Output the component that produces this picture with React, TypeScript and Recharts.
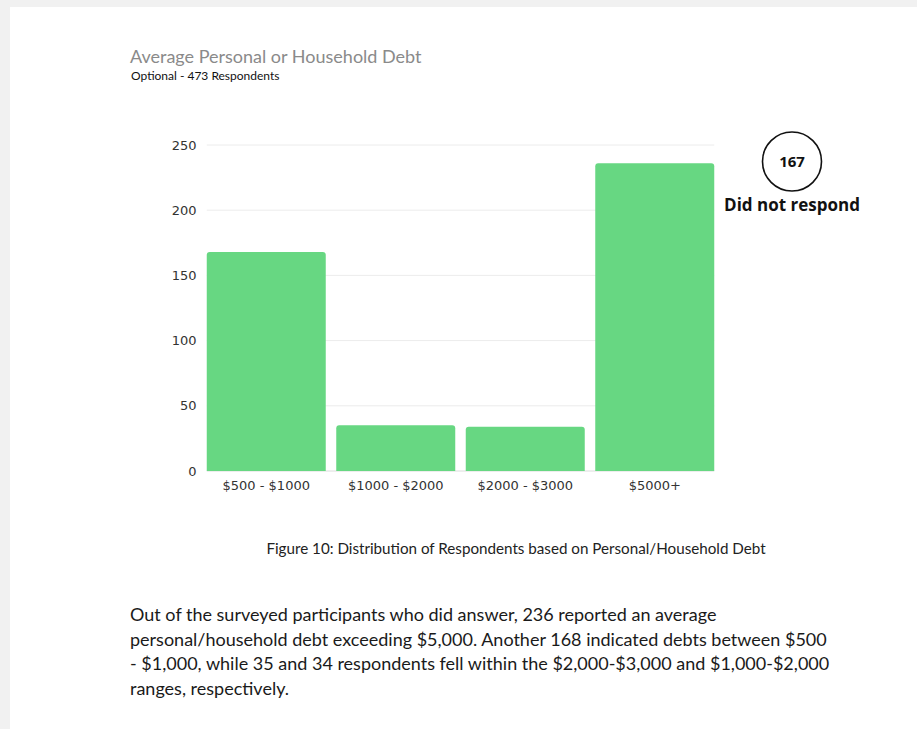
import { BarChart, Bar, XAxis, YAxis, CartesianGrid } from 'recharts';

const categories = ['$500 - $1000', '$1000 - $2000', '$2000 - $3000', '$5000+'];
const respondents = [168, 35, 34, 236];
const yTicks = [0, 50, 100, 150, 200, 250];
const noResponse = 167;

const data = categories.map((name, i) => ({ name, value: respondents[i] }));

const GAP = 5.25;
const textFont = 'Lato, "Open Sans", sans-serif';
const tickFont = '"DejaVu Sans", sans-serif';
const noteFont = '"Open Sans", sans-serif';

// shorten grid lines so they stop at the outer bar edges, like the original
const GridLine = (props: any) => {
  const isBase = Math.abs(props.y1 - props.offset?.top - props.offset?.height) < 1;
  return (
    <line
      x1={props.x1 + GAP}
      x2={props.x2 - GAP}
      y1={props.y1}
      y2={props.y2}
      stroke={isBase ? '#dcdcdc' : '#ececec'}
      strokeWidth={1}
    />
  );
};

export default function App() {
  return (
    <div
      style={{
        position: 'absolute',
        left: 0,
        top: 0,
        width: 917,
        height: 729,
        background: '#f1f1f1',
        overflow: 'hidden',
      }}
    >
      <div
        style={{
          position: 'absolute',
          left: 10,
          top: 7,
          right: 0,
          bottom: 0,
          background: '#fff',
        }}
      />
      <div
        style={{
          position: 'absolute',
          left: 130,
          top: 45,
          fontFamily: textFont,
          fontSize: 18,
          color: '#8a8a8a',
          lineHeight: '22px',
        }}
      >
        Average Personal or Household Debt
      </div>
      <div
        style={{
          position: 'absolute',
          left: 131,
          top: 68,
          fontFamily: textFont,
          fontSize: 12,
          color: '#111',
          lineHeight: '16px',
        }}
      >
        Optional - 473 Respondents
      </div>

      <div style={{ position: 'absolute', left: 120, top: 130 }}>
        <BarChart
          width={620}
          height={376}
          data={data}
          margin={{ top: 15, right: 20.5, left: 0, bottom: 5 }}
          barCategoryGap={GAP}
        >
          <CartesianGrid vertical={false} horizontal={(p: any) => <GridLine {...p} />} />
          <XAxis
            dataKey="name"
            axisLine={false}
            tickLine={false}
            tickSize={0}
            tickMargin={10}
            height={30}
            interval={0}
            tick={{ fontFamily: tickFont, fontSize: 13, fill: '#333' }}
          />
          <YAxis
            domain={[0, 250]}
            ticks={yTicks}
            width={81.5}
            axisLine={false}
            tickLine={false}
            tickSize={0}
            tickMargin={5}
            tick={{ fontFamily: tickFont, fontSize: 13, fill: '#333' }}
          />
          <Bar dataKey="value" fill="#67d782" radius={[3, 3, 0, 0]} isAnimationActive={false} />
        </BarChart>
      </div>

      <svg style={{ position: 'absolute', left: 700, top: 120 }} width={200} height={110}>
        <circle cx={92} cy={41.5} r={29.5} fill="none" stroke="#111" strokeWidth={1.6} />
        <text
          x={92}
          y={47}
          textAnchor="middle"
          fontFamily={noteFont}
          fontWeight={700}
          fontSize={15}
          fill="#111"
        >
          {noResponse}
        </text>
        <text
          x={92}
          y={91}
          textAnchor="middle"
          fontFamily={noteFont}
          fontWeight={700}
          fontSize={17}
          fill="#111"
        >
          Did not respond
        </text>
      </svg>

      <div
        style={{
          position: 'absolute',
          left: 0,
          width: 1032,
          top: 538,
          textAlign: 'center',
          fontFamily: textFont,
          fontSize: 15.2,
          color: '#222',
          lineHeight: '20px',
        }}
      >
        Figure 10: Distribution of Respondents based on Personal/Household Debt
      </div>

      <div
        style={{
          position: 'absolute',
          left: 130,
          top: 602,
          width: 740,
          fontFamily: textFont,
          fontSize: 18,
          color: '#1a1a1a',
          lineHeight: '24.5px',
        }}
      >
        Out of the surveyed participants who did answer, 236 reported an average
        <br />
        personal/household debt exceeding $5,000. Another 168 indicated debts between $500
        <br />
        - $1,000, while 35 and 34 respondents fell within the $2,000-$3,000 and $1,000-$2,000
        <br />
        ranges, respectively.
      </div>
    </div>
  );
}
